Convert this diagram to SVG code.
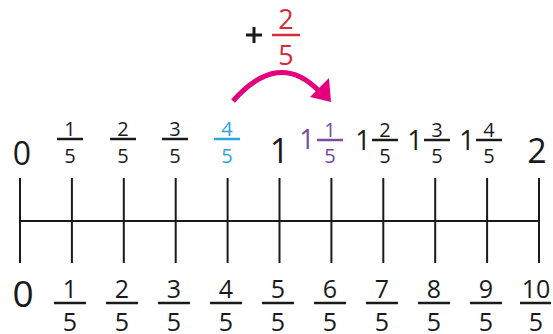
<svg xmlns="http://www.w3.org/2000/svg" width="553" height="334" viewBox="0 0 553 334">
<style>
text{font-family:"Open Sans","Noto Sans",sans-serif;text-anchor:middle;fill:#1a1a1a;font-weight:500}
.ln{stroke:#1a1a1a;stroke-width:2;fill:none}
.bar{stroke:#1a1a1a;stroke-width:2.5}
.t{font-size:20px}
.b{font-size:25px}
.w{font-size:27px}
.blue{fill:#29a6de}
.purple{fill:#7a4b9e}
.red{fill:#d52b3b}
</style>
<rect width="553" height="334" fill="#fff"/>
<g id="axis">
<line class="ln" x1="20" y1="221" x2="539" y2="221"/>
<path class="ln" d="M20,178V263M71.9,178V263M123.8,178V263M175.7,178V263M227.6,178V263M279.5,178V263M331.4,178V263M383.3,178V263M435.2,178V263M487.1,178V263M539,178V263"/>
</g>
<g id="jump">
<path d="M233,101 Q278,50 318,90" stroke="#e4007c" stroke-width="5" fill="none"/>
<polygon points="310,97 329,78 331,102" fill="#e4007c"/>
<line x1="246" y1="35" x2="262" y2="35" stroke="#1a1a1a" stroke-width="3"/>
<line x1="254" y1="27" x2="254" y2="43" stroke="#1a1a1a" stroke-width="3"/>
<text class="red" x="286" y="29" font-size="27">2</text>
<line x1="272" y1="35" x2="300" y2="35" stroke="#d52b3b" stroke-width="2.5"/>
<text class="red" x="286" y="65" font-size="27">5</text>
</g>
<g id="top-labels">
<text x="22" y="165" font-size="32">0</text>
<g><text class="t" x="70" y="136">1</text><line class="bar" x1="57" y1="139" x2="83" y2="139"/><text class="t" x="70" y="163">5</text></g>
<g><text class="t" x="123" y="136">2</text><line class="bar" x1="110" y1="139" x2="136" y2="139"/><text class="t" x="123" y="163">5</text></g>
<g><text class="t" x="175" y="136">3</text><line class="bar" x1="162" y1="139" x2="188" y2="139"/><text class="t" x="175" y="163">5</text></g>
<g><text class="t blue" x="227" y="136">4</text><line x1="214" y1="139" x2="240" y2="139" stroke="#29a6de" stroke-width="2.5"/><text class="t blue" x="227" y="163">5</text></g>
<text x="279.5" y="163" font-size="34">1</text>
<g><text class="w purple" x="307" y="149">1</text><text class="t purple" x="330" y="137">1</text><line x1="317" y1="140" x2="343" y2="140" stroke="#7a4b9e" stroke-width="2.5"/><text class="t purple" x="330" y="163">5</text></g>
<g><text class="w" x="363" y="150">1</text><text class="t" x="385" y="137">2</text><line class="bar" x1="372" y1="140" x2="398" y2="140"/><text class="t" x="385" y="163">5</text></g>
<g><text class="w" x="415" y="150">1</text><text class="t" x="437" y="137">3</text><line class="bar" x1="424" y1="140" x2="450" y2="140"/><text class="t" x="437" y="163">5</text></g>
<g><text class="w" x="467" y="150">1</text><text class="t" x="489" y="137">4</text><line class="bar" x1="476" y1="140" x2="502" y2="140"/><text class="t" x="489" y="163">5</text></g>
<text x="537" y="163" font-size="34">2</text>
</g>
<g id="bottom-labels">
<text x="23" y="307" font-size="37">0</text>
<g><text class="b" x="70" y="298">1</text><line class="bar" x1="54" y1="303" x2="86" y2="303"/><text class="b" x="70" y="331">5</text></g>
<g><text class="b" x="122" y="298">2</text><line class="bar" x1="106" y1="303" x2="138" y2="303"/><text class="b" x="122" y="331">5</text></g>
<g><text class="b" x="174" y="298">3</text><line class="bar" x1="158" y1="303" x2="190" y2="303"/><text class="b" x="174" y="331">5</text></g>
<g><text class="b" x="226" y="298">4</text><line class="bar" x1="210" y1="303" x2="242" y2="303"/><text class="b" x="226" y="331">5</text></g>
<g><text class="b" x="278" y="298">5</text><line class="bar" x1="262" y1="303" x2="294" y2="303"/><text class="b" x="278" y="331">5</text></g>
<g><text class="b" x="330" y="298">6</text><line class="bar" x1="314" y1="303" x2="346" y2="303"/><text class="b" x="330" y="331">5</text></g>
<g><text class="b" x="382" y="298">7</text><line class="bar" x1="366" y1="303" x2="398" y2="303"/><text class="b" x="382" y="331">5</text></g>
<g><text class="b" x="434" y="298">8</text><line class="bar" x1="418" y1="303" x2="450" y2="303"/><text class="b" x="434" y="331">5</text></g>
<g><text class="b" x="486" y="298">9</text><line class="bar" x1="470" y1="303" x2="502" y2="303"/><text class="b" x="486" y="331">5</text></g>
<g><text class="b" x="536" y="298">10</text><line class="bar" x1="520" y1="303" x2="551" y2="303"/><text class="b" x="536" y="331">5</text></g>
</g>
</svg>
